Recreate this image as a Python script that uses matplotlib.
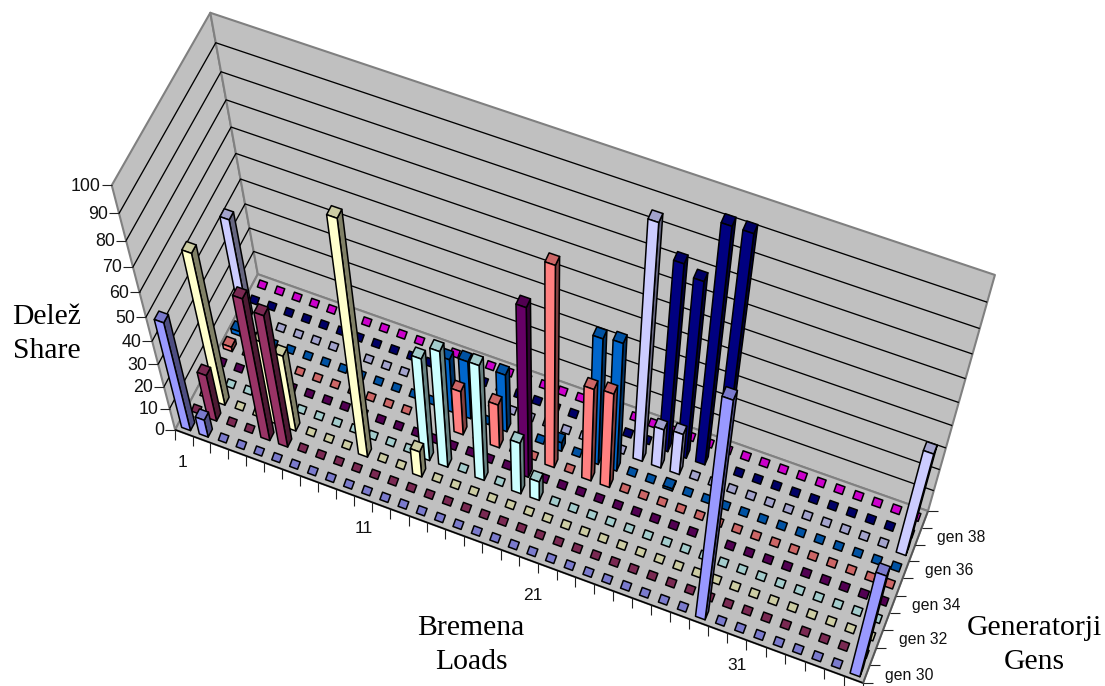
import numpy as np
import matplotlib
matplotlib.use("Agg")
import matplotlib.pyplot as plt
from matplotlib.collections import PolyCollection, LineCollection
from matplotlib.colors import to_rgb

# ---- data: non-zero shares per generator (every other load is 0) ----
n_loads = 37
gen_names = ["gen 30", "gen 31", "gen 32", "gen 33", "gen 34",
             "gen 35", "gen 36", "gen 37", "gen 38", "gen 39"]
gen_colors = ["#9999FF", "#993366", "#FFFFCC", "#CCFFFF", "#660066",
              "#FF8080", "#0066CC", "#CCCCFF", "#000080", "#FF00FF"]

gen30_loads = [1, 2, 29, 37]
gen30_share = [48, 8, 99, 51]
gen31_loads = [2, 5, 6]
gen31_share = [21, 62, 58]
gen32_loads = [2, 5, 6, 10, 13]
gen32_share = [65, 37, 34, 99, 12]
gen33_loads = [13, 14, 16, 18, 19]
gen33_share = [46, 52, 52, 24, 9]
gen34_loads = [18]
gen34_share = [74]
gen35_loads = [1, 14, 16, 19, 21, 22]
gen35_share = [2, 20, 20, 86, 42, 43]
gen36_loads = [1, 13, 14, 16, 19, 21, 22, 25]
gen36_share = [2, 24, 26, 26, 4, 56, 57, 1]
gen37_loads = [1, 23, 24, 25, 37]
gen37_share = [43, 99, 18, 19, 48]
gen38_loads = [24, 25, 26, 27]
gen38_share = [80, 76, 99, 99]
gen39_loads = []
gen39_share = []

all_loads = [gen30_loads, gen31_loads, gen32_loads, gen33_loads, gen34_loads,
             gen35_loads, gen36_loads, gen37_loads, gen38_loads, gen39_loads]
all_share = [gen30_share, gen31_share, gen32_share, gen33_share, gen34_share,
             gen35_share, gen36_share, gen37_share, gen38_share, gen39_share]

share_ticks = list(range(0, 101, 10))
load_labels = [1, 11, 21, 31]
gen_labels = [0, 2, 4, 6, 8]

# ---- projection of the 3-D chart box onto the page (pixel space) ----
n_gens = len(gen_names)
calib = [((0, 0, 0), (175, 430)), ((n_loads, 0, 0), (863, 683)),
         ((0, n_gens, 0), (258, 274)), ((n_loads, n_gens, 0), (928, 511)),
         ((0, 0, 100), (112, 185)), ((0, n_gens, 100), (210, 13)),
         ((n_loads, n_gens, 100), (995, 275))]
A = []
for (X, Y, Z), (u, v) in calib:
    A.append([X, Y, Z, 1, 0, 0, 0, 0, -u * X, -u * Y, -u * Z, -u])
    A.append([0, 0, 0, 0, X, Y, Z, 1, -v * X, -v * Y, -v * Z, -v])
P = np.linalg.svd(np.array(A, float))[2][-1].reshape(3, 4)


def pr(x, y, z):
    h = P @ np.array([x, y, z, 1.0])
    return (h[0] / h[2], h[1] / h[2])


fig = plt.figure(figsize=(11.05, 6.86), dpi=100)
ax = fig.add_axes([0, 0, 1, 1])
ax.set_xlim(0, 1105)
ax.set_ylim(686, 0)
ax.axis("off")

L, G = n_loads, n_gens
WALL = "#C0C0C0"
EDGE = "#808080"
walls = [[pr(0, 0, 0), pr(0, G, 0), pr(0, G, 100), pr(0, 0, 100)],
         [pr(0, G, 0), pr(L, G, 0), pr(L, G, 100), pr(0, G, 100)],
         [pr(0, 0, 0), pr(L, 0, 0), pr(L, G, 0), pr(0, G, 0)]]
ax.add_collection(PolyCollection(walls, facecolors=WALL, edgecolors=EDGE, linewidths=1.5, zorder=1))

grid = []
for s in share_ticks[1:-1]:
    grid.append([pr(0, 0, s), pr(0, G, s), pr(L, G, s)])
ax.add_collection(LineCollection(grid, colors="black", linewidths=0.95, zorder=2))
ax.add_collection(LineCollection([[pr(0, 0, 0), pr(L, 0, 0)]], colors="black", linewidths=1.1, zorder=2))
ax.add_collection(LineCollection([[pr(L, 0, 0), pr(L, G, 0)]], colors="#555555", linewidths=1.2, zorder=2))

# tick marks
ticks = []
for s in share_ticks:
    x, y = pr(0, 0, s)
    ticks.append([(x, y), (x - 10, y)])
    ax.text(x - 11, y + 1, str(s), ha="right", va="center", fontsize=12.8,
            family="Liberation Sans", color="#111111", zorder=5)
for i in range(L + 1):
    x, y = pr(i, 0, 0)
    ticks.append([(x, y), (x, y + 10)])
for j in range(G + 1):
    x, y = pr(L, j, 0)
    ticks.append([(x, y), (x + 10, y)])
ax.add_collection(LineCollection(ticks, colors="#222222", linewidths=0.8, zorder=2))

load_label_shift = [(-1, 29), (1, 30), (-14, 29), (0, 29)]
for n, (dx, dy) in zip(load_labels, load_label_shift):
    x, y = pr(n - 0.5, 0, 0)
    ax.text(x + dx, y + dy, str(n), ha="center", va="center", fontsize=12.5,
            family="Liberation Sans", color="#111111", zorder=5)
for j in gen_labels:
    x, y = pr(L, j + 0.5, 0)
    ax.text(x + 43, y + 1, gen_names[j], ha="center", va="center", fontsize=11.3,
            family="Liberation Sans", color="#111111", zorder=5)

# bars, painted from the back row to the front row
w, d = 0.5, 0.5
flat_w = 0.44
polys, faces = [], []


def shade(c, f):
    return tuple(v * f for v in to_rgb(c))


for g in range(G - 1, -1, -1):
    values = dict(zip(all_loads[g], all_share[g]))
    col = gen_colors[g]
    for n in range(1, L + 1):
        v = values.get(n, 0)
        xc, yc = n - 0.5, g + 0.5
        if v == 0:
            # a zero share shows as a small flat square on the floor
            c = np.array(pr(xc, yc, 0))
            e = (np.array(pr(xc + flat_w / 2, yc, 0)) - np.array(pr(xc - flat_w / 2, yc, 0))) / 2
            p = np.array([e[1], -e[0]]) * 0.92
            polys.append([tuple(c - e - p), tuple(c + e - p), tuple(c + e + p), tuple(c - e + p)])
            faces.append(shade(col, 0.8))
            continue
        x0, x1 = xc - w / 2, xc + w / 2
        y0, y1 = yc - d / 2, yc + d / 2
        polys.append([pr(x1, y0, 0), pr(x1, y1, 0), pr(x1, y1, v), pr(x1, y0, v)])
        faces.append(shade(col, 0.5))
        polys.append([pr(x0, y0, v), pr(x1, y0, v), pr(x1, y1, v), pr(x0, y1, v)])
        faces.append(shade(col, 0.8))
        polys.append([pr(x0, y0, 0), pr(x1, y0, 0), pr(x1, y0, v), pr(x0, y0, v)])
        faces.append(to_rgb(col))
ax.add_collection(PolyCollection(polys, facecolors=faces, edgecolors="black", linewidths=1.1, zorder=3))

# axis titles
serif = "Liberation Serif"
ax.text(47, 334, "Delež\nShare", ha="center", va="center", fontsize=21.3, family=serif, linespacing=1.4)
ax.text(471, 645, "Bremena\nLoads", ha="center", va="center", fontsize=21.3, family=serif, linespacing=1.4)
ax.text(1034, 645, "Generatorji\nGens", ha="center", va="center", fontsize=21.3, family=serif, linespacing=1.4)

fig.savefig("out.png", dpi=100)
